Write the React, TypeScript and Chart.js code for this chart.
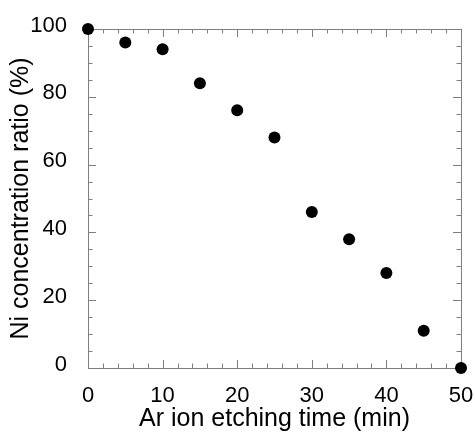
import React, { useEffect, useRef } from "react";
import { Chart, registerables } from "chart.js";

Chart.register(...registerables);

const etchTimes = [0, 5, 10, 15, 20, 25, 30, 35, 40, 45, 50];
const niRatio = [100, 96, 94, 84, 76, 68, 46, 38, 28, 11, 0];
const xTitle = "Ar ion etching time (min)";
const yTitle = "Ni concentration ratio (%)";
const xMajorStep = 10;
const xMinorStep = 2;
const yMajorStep = 20;
const yMinorStep = 5;

const FONT = "'Liberation Sans', Arial, sans-serif";
const FRAME = "#7f7f7f";

const framePlugin = {
  id: "frameTicks",
  beforeDatasetsDraw(chart: any) {
    const { ctx, chartArea, scales } = chart;
    const { left, right, top, bottom } = chartArea;
    const xs = scales.x;
    const ys = scales.y;
    ctx.save();
    ctx.strokeStyle = FRAME;
    ctx.lineWidth = 1;
    ctx.beginPath();
    ctx.rect(Math.round(left) + 0.5, Math.round(top) + 0.5, Math.round(right - left), Math.round(bottom - top));
    ctx.stroke();
    ctx.beginPath();
    for (let v = xs.min; v <= xs.max + 1e-9; v += xMinorStep) {
      const major = Math.abs(v / xMajorStep - Math.round(v / xMajorStep)) < 1e-6;
      const len = major ? 8 : 4.5;
      const px = Math.round(xs.getPixelForValue(v)) + 0.5;
      ctx.moveTo(px, bottom);
      ctx.lineTo(px, bottom - len);
      ctx.moveTo(px, top);
      ctx.lineTo(px, top + len);
    }
    for (let v = ys.min; v <= ys.max + 1e-9; v += yMinorStep) {
      const major = Math.abs(v / yMajorStep - Math.round(v / yMajorStep)) < 1e-6;
      const len = major ? 8 : 4.5;
      const py = Math.round(ys.getPixelForValue(v)) + 0.5;
      ctx.moveTo(left, py);
      ctx.lineTo(left + len, py);
      ctx.moveTo(right, py);
      ctx.lineTo(right - len, py);
    }
    ctx.stroke();
    ctx.restore();
  },
};

export default function App() {
  const canvasRef = useRef<HTMLCanvasElement>(null);

  useEffect(() => {
    if (!canvasRef.current) return;
    const chart = new Chart(canvasRef.current, {
      type: "scatter",
      data: {
        datasets: [
          {
            data: etchTimes.map((t, i) => ({ x: t, y: niRatio[i] })),
            backgroundColor: "#000000",
            borderColor: "#000000",
            borderWidth: 0,
            pointRadius: 6,
            pointHoverRadius: 6,
            clip: false as any,
          },
        ],
      },
      options: {
        responsive: false,
        animation: false,
        layout: { padding: { top: 29, right: 14, left: 0, bottom: 0 } },
        plugins: {
          legend: { display: false },
          tooltip: { enabled: false },
        },
        scales: {
          x: {
            type: "linear",
            min: 0,
            max: 50,
            grid: { display: false },
            border: { display: false },
            ticks: {
              stepSize: xMajorStep,
              padding: 7,
              color: "#000",
              font: { family: FONT, size: 22 },
            },
            title: {
              display: true,
              text: xTitle,
              color: "#000",
              font: { family: FONT, size: 25, lineHeight: 1 },
              padding: { top: 4, bottom: 0 },
            },
            afterFit: (scale: any) => {
              scale.height = 64;
              scale.paddingLeft = 0;
              scale.paddingRight = 0;
            },
          },
          y: {
            type: "linear",
            min: 0,
            max: 100,
            grid: { display: false },
            border: { display: false },
            ticks: {
              stepSize: yMajorStep,
              padding: 13,
              color: "#000",
              font: { family: FONT, size: 22, lineHeight: "7px" },
              callback: (value: any) => [String(value), ""],
            },
            title: {
              display: true,
              text: yTitle,
              color: "#000",
              font: { family: FONT, size: 25, lineHeight: 1 },
              padding: { top: 9, bottom: 0 },
            },
            afterFit: (scale: any) => {
              scale.width = 88;
              scale.paddingTop = 0;
              scale.paddingBottom = 0;
            },
          },
        },
      },
      plugins: [framePlugin],
    });
    return () => chart.destroy();
  }, []);

  return (
    <div style={{ position: "absolute", left: 0, top: 0, width: 475, height: 432, background: "#fff" }}>
      <canvas ref={canvasRef} width={475} height={432} />
    </div>
  );
}
